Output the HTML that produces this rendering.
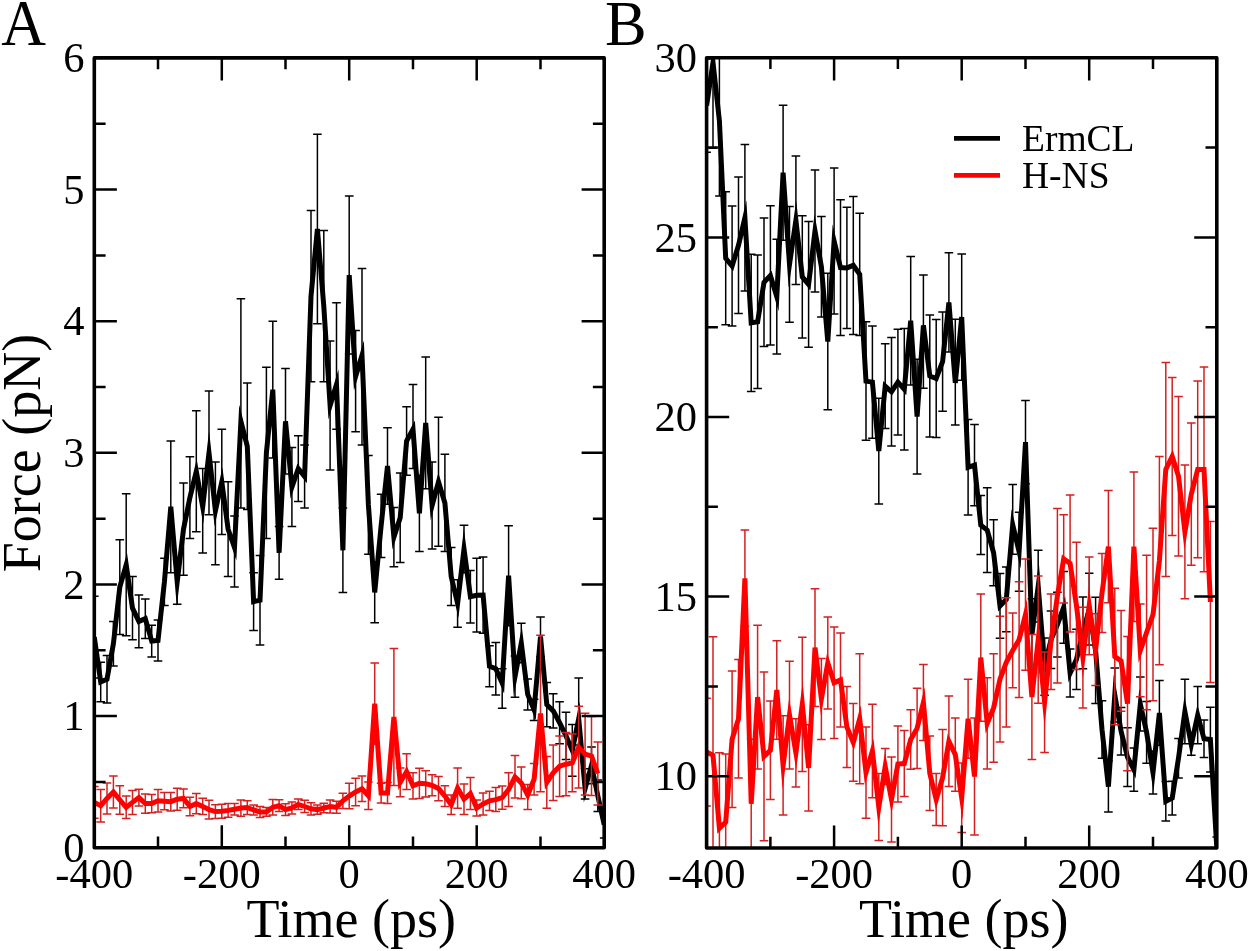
<!DOCTYPE html><html><head><meta charset="utf-8"><style>html,body{margin:0;padding:0;background:#fff;}svg{display:block;will-change:transform;}text{font-family:"Liberation Serif",serif;fill:#000;}</style></head><body>
<svg width="1250" height="951" viewBox="0 0 1250 951">
<rect width="1250" height="951" fill="#fff"/>
<defs>
<clipPath id="ca"><rect x="94.3" y="57.9" width="509.90000000000003" height="789.9"/></clipPath>
<clipPath id="cb"><rect x="706.6" y="57.8" width="510.19999999999993" height="790.2"/></clipPath>
</defs>
<g clip-path="url(#ca)">
<path d="M94.3 596.3V678.0M90.0 596.3H98.6M90.0 678.0H98.6M100.7 662.2V701.7M96.4 662.2H105.0M96.4 701.7H105.0M107.0 655.6V703.0M102.7 655.6H111.3M102.7 703.0H111.3M113.4 621.4V666.1M109.1 621.4H117.7M109.1 666.1H117.7M119.8 539.7V634.5M115.5 539.7H124.1M115.5 634.5H124.1M126.2 493.7V635.8M121.9 493.7H130.5M121.9 635.8H130.5M132.5 576.6V639.8M128.2 576.6H136.8M128.2 639.8H136.8M138.9 595.0V647.7M134.6 595.0H143.2M134.6 647.7H143.2M145.3 599.0V638.5M141.0 599.0H149.6M141.0 638.5H149.6M151.7 625.3V656.9M147.4 625.3H156.0M147.4 656.9H156.0M158.0 620.0V660.9M153.7 620.0H162.3M153.7 660.9H162.3M164.4 558.2V605.6M160.1 558.2H168.7M160.1 605.6H168.7M170.8 441.0V572.7M166.5 441.0H175.1M166.5 572.7H175.1M177.2 559.5V604.2M172.9 559.5H181.5M172.9 604.2H181.5M183.5 483.1V575.3M179.2 483.1H187.8M179.2 575.3H187.8M189.9 456.8V538.4M185.6 456.8H194.2M185.6 538.4H194.2M196.3 410.7V531.8M192.0 410.7H200.6M192.0 531.8H200.6M202.7 468.6V552.9M198.4 468.6H207.0M198.4 552.9H207.0M209.0 391.0V514.7M204.7 391.0H213.3M204.7 514.7H213.3M215.4 462.1V564.8M211.1 462.1H219.7M211.1 564.8H219.7M221.8 429.2V534.5M217.5 429.2H226.1M217.5 534.5H226.1M228.1 481.8V576.6M223.8 481.8H232.4M223.8 576.6H232.4M234.5 516.0V587.1M230.2 516.0H238.8M230.2 587.1H238.8M240.9 298.8V508.1M236.6 298.8H245.2M236.6 508.1H245.2M247.3 383.1V509.5M243.0 383.1H251.6M243.0 509.5H251.6M253.6 572.7V630.6M249.3 572.7H257.9M249.3 630.6H257.9M260.0 555.5V645.1M255.7 555.5H264.3M255.7 645.1H264.3M266.4 367.3V538.4M262.1 367.3H270.7M262.1 538.4H270.7M272.8 321.2V458.1M268.5 321.2H277.1M268.5 458.1H277.1M279.1 526.6V579.2M274.8 526.6H283.4M274.8 579.2H283.4M285.5 368.6V473.9M281.2 368.6H289.8M281.2 473.9H289.8M291.9 447.6V526.6M287.6 447.6H296.2M287.6 526.6H296.2M298.3 435.7V501.6M294.0 435.7H302.6M294.0 501.6H302.6M304.6 445.0V508.1M300.3 445.0H308.9M300.3 508.1H308.9M311.0 210.6V381.8M306.7 210.6H315.3M306.7 381.8H315.3M317.4 134.3V323.8M313.1 134.3H321.7M313.1 323.8H321.7M323.8 230.4V381.8M319.5 230.4H328.1M319.5 381.8H328.1M330.1 340.9V470.0M325.8 340.9H334.4M325.8 470.0H334.4M336.5 302.8V429.2M332.2 302.8H340.8M332.2 429.2H340.8M342.9 508.1V592.4M338.6 508.1H347.2M338.6 592.4H347.2M349.2 196.1V354.1M344.9 196.1H353.6M344.9 354.1H353.6M355.6 330.4V431.8M351.3 330.4H359.9M351.3 431.8H359.9M362.0 268.5V445.0M357.7 268.5H366.3M357.7 445.0H366.3M368.4 455.5V554.2M364.1 455.5H372.7M364.1 554.2H372.7M374.7 562.1V622.7M370.4 562.1H379.0M370.4 622.7H379.0M381.1 494.3V557.5M376.8 494.3H385.4M376.8 557.5H385.4M387.5 427.8V504.2M383.2 427.8H391.8M383.2 504.2H391.8M393.9 507.5V566.7M389.6 507.5H398.2M389.6 566.7H398.2M400.2 473.0V562.5M395.9 473.0H404.5M395.9 562.5H404.5M406.6 406.8V475.2M402.3 406.8H410.9M402.3 475.2H410.9M413.0 384.4V468.6M408.7 384.4H417.3M408.7 468.6H417.3M419.4 475.2V551.6M415.1 475.2H423.7M415.1 551.6H423.7M425.7 357.1V488.8M421.4 357.1H430.0M421.4 488.8H430.0M432.1 462.1V549.0M427.8 462.1H436.4M427.8 549.0H436.4M438.5 417.3V546.3M434.2 417.3H442.8M434.2 546.3H442.8M444.9 454.2V551.6M440.6 454.2H449.2M440.6 551.6H449.2M451.2 547.6V605.6M446.9 547.6H455.5M446.9 605.6H455.5M457.6 579.8V627.2M453.3 579.8H461.9M453.3 627.2H461.9M464.0 525.3V572.7M459.7 525.3H468.3M459.7 572.7H468.3M470.4 570.4V623.1M466.1 570.4H474.7M466.1 623.1H474.7M476.7 558.3V632.0M472.4 558.3H481.0M472.4 632.0H481.0M483.1 556.9V633.2M478.8 556.9H487.4M478.8 633.2H487.4M489.5 645.8V686.7M485.2 645.8H493.8M485.2 686.7H493.8M495.8 642.4V695.1M491.5 642.4H500.1M491.5 695.1H500.1M502.2 668.8V708.3M497.9 668.8H506.5M497.9 708.3H506.5M508.6 525.7V625.7M504.3 525.7H512.9M504.3 625.7H512.9M515.0 656.0V697.3M510.7 656.0H519.3M510.7 697.3H519.3M521.3 623.2V662.7M517.0 623.2H525.6M517.0 662.7H525.6M527.7 678.9V710.0M523.4 678.9H532.0M523.4 710.0H532.0M534.1 699.3V720.4M529.8 699.3H538.4M529.8 720.4H538.4M540.5 616.9V656.4M536.2 616.9H544.8M536.2 656.4H544.8M546.8 682.6V726.8M542.5 682.6H551.1M542.5 726.8H551.1M553.2 693.8V728.0M548.9 693.8H557.5M548.9 728.0H557.5M559.6 701.7V743.8M555.3 701.7H563.9M555.3 743.8H563.9M566.0 712.2V759.6M561.7 712.2H570.3M561.7 759.6H570.3M572.3 724.6V776.2M568.0 724.6H576.6M568.0 776.2H576.6M578.7 678.0V745.1M574.4 678.0H583.0M574.4 745.1H583.0M585.1 768.8V799.1M580.8 768.8H589.4M580.8 799.1H589.4M591.5 747.0V783.8M587.2 747.0H595.8M587.2 783.8H595.8M597.8 779.9V811.5M593.5 779.9H602.1M593.5 811.5H602.1M604.2 811.6V837.9M599.9 811.6H608.5M599.9 837.9H608.5" stroke="#000" stroke-width="1.5" fill="none"/>
<polyline points="94.3,637.2 100.7,681.9 107.0,679.3 113.4,643.7 119.8,587.1 126.2,564.8 132.5,608.2 138.9,621.4 145.3,618.7 151.7,641.1 158.0,640.5 164.4,581.9 170.8,506.8 177.2,581.9 183.5,529.2 189.9,497.6 196.3,471.3 202.7,506.8 209.0,452.8 215.4,510.8 221.8,481.8 228.1,529.2 234.5,547.6 240.9,421.3 247.3,446.3 253.6,601.6 260.0,600.3 266.4,452.8 272.8,389.7 279.1,552.9 285.5,421.3 291.9,487.1 298.3,468.6 304.6,476.5 311.0,296.2 317.4,229.0 323.8,306.1 330.1,405.5 336.5,384.4 342.9,550.3 349.2,275.1 355.6,376.5 362.0,355.4 368.4,504.9 374.7,592.4 381.1,525.9 387.5,466.0 393.9,537.1 400.2,517.8 406.6,441.0 413.0,429.2 419.4,513.4 425.7,423.0 432.1,505.5 438.5,481.8 444.9,502.9 451.2,576.6 457.6,603.5 464.0,549.0 470.4,596.7 476.7,595.2 483.1,595.0 489.5,666.3 495.8,668.8 502.2,683.2 508.6,575.7 515.0,676.7 521.3,643.0 527.7,694.4 534.1,709.8 540.5,636.6 546.8,704.7 553.2,710.9 559.6,722.7 566.0,735.9 572.3,750.4 578.7,718.8 585.1,788.6 591.5,765.4 597.8,795.7 604.2,824.8" stroke="#000" stroke-width="5" fill="none" stroke-linejoin="miter" stroke-miterlimit="10"/>
<path d="M94.3 786.6V818.2M90.0 786.6H98.6M90.0 818.2H98.6M100.7 789.5V821.9M96.4 789.5H105.0M96.4 821.9H105.0M107.0 782.9V814.0M102.7 782.9H111.3M102.7 814.0H111.3M113.4 776.1V807.9M109.1 776.1H117.7M109.1 807.9H117.7M119.8 785.8V814.2M115.5 785.8H124.1M115.5 814.2H124.1M126.2 796.1V818.4M121.9 796.1H130.5M121.9 818.4H130.5M132.5 790.4V814.4M128.2 790.4H136.8M128.2 814.4H136.8M138.9 789.3V805.9M134.6 789.3H143.2M134.6 805.9H143.2M145.3 794.0V813.2M141.0 794.0H149.6M141.0 813.2H149.6M151.7 794.4V812.8M147.4 794.4H156.0M147.4 812.8H156.0M158.0 789.6V812.0M153.7 789.6H162.3M153.7 812.0H162.3M164.4 792.6V809.8M160.1 792.6H168.7M160.1 809.8H168.7M170.8 792.5V810.9M166.5 792.5H175.1M166.5 810.9H175.1M177.2 788.2V810.3M172.9 788.2H181.5M172.9 810.3H181.5M183.5 789.1V807.8M179.2 789.1H187.8M179.2 807.8H187.8M189.9 797.2V815.7M185.6 797.2H194.2M185.6 815.7H194.2M196.3 793.4V813.7M192.0 793.4H200.6M192.0 813.7H200.6M202.7 798.3V814.6M198.4 798.3H207.0M198.4 814.6H207.0M209.0 800.3V819.0M204.7 800.3H213.3M204.7 819.0H213.3M215.4 804.8V818.4M211.1 804.8H219.7M211.1 818.4H219.7M221.8 804.2V818.2M217.5 804.2H226.1M217.5 818.2H226.1M228.1 803.6V817.3M223.8 803.6H232.4M223.8 817.3H232.4M234.5 803.6V814.9M230.2 803.6H238.8M230.2 814.9H238.8M240.9 799.9V816.2M236.6 799.9H245.2M236.6 816.2H245.2M247.3 800.7V814.6M243.0 800.7H251.6M243.0 814.6H251.6M253.6 805.0V815.0M249.3 805.0H257.9M249.3 815.0H257.9M260.0 806.6V817.4M255.7 806.6H264.3M255.7 817.4H264.3M266.4 807.6V816.3M262.1 807.6H270.7M262.1 816.3H270.7M272.8 799.5V815.0M268.5 799.5H277.1M268.5 815.0H277.1M279.1 799.7V811.6M274.8 799.7H283.4M274.8 811.6H283.4M285.5 803.8V815.4M281.2 803.8H289.8M281.2 815.4H289.8M291.9 802.1V814.0M287.6 802.1H296.2M287.6 814.0H296.2M298.3 799.1V809.6M294.0 799.1H302.6M294.0 809.6H302.6M304.6 800.3V812.6M300.3 800.3H308.9M300.3 812.6H308.9M311.0 802.8V814.9M306.7 802.8H315.3M306.7 814.9H315.3M317.4 805.0V814.2M313.1 805.0H321.7M313.1 814.2H321.7M323.8 803.3V812.8M319.5 803.3H328.1M319.5 812.8H328.1M330.1 800.0V812.9M325.8 800.0H334.4M325.8 812.9H334.4M336.5 801.3V813.2M332.2 801.3H340.8M332.2 813.2H340.8M342.9 793.2V808.4M338.6 793.2H347.2M338.6 808.4H347.2M349.2 783.3V808.8M344.9 783.3H353.6M344.9 808.8H353.6M355.6 778.2V805.8M351.3 778.2H359.9M351.3 805.8H359.9M362.0 776.1V801.6M357.7 776.1H366.3M357.7 801.6H366.3M368.4 782.0V809.6M364.1 782.0H372.7M364.1 809.6H372.7M374.7 663.1V744.2M370.4 663.1H379.0M370.4 744.2H379.0M381.1 783.2V802.9M376.8 783.2H385.4M376.8 802.9H385.4M387.5 782.5V803.6M383.2 782.5H391.8M383.2 803.6H391.8M393.9 648.5V785.4M389.6 648.5H398.2M389.6 785.4H398.2M400.2 768.0V796.7M395.9 768.0H404.5M395.9 796.7H404.5M406.6 753.7V789.5M402.3 753.7H410.9M402.3 789.5H410.9M413.0 772.8V799.1M408.7 772.8H417.3M408.7 799.1H417.3M419.4 768.2V798.4M415.1 768.2H423.7M415.1 798.4H423.7M425.7 770.7V797.0M421.4 770.7H430.0M421.4 797.0H430.0M432.1 774.7V795.8M427.8 774.7H436.4M427.8 795.8H436.4M438.5 776.4V800.7M434.2 776.4H442.8M434.2 800.7H442.8M444.9 785.7V806.5M440.6 785.7H449.2M440.6 806.5H449.2M451.2 795.1V814.4M446.9 795.1H455.5M446.9 814.4H455.5M457.6 767.9V808.2M453.3 767.9H461.9M453.3 808.2H461.9M464.0 784.1V814.4M459.7 784.1H468.3M459.7 814.4H468.3M470.4 777.5V809.6M466.1 777.5H474.7M466.1 809.6H474.7M476.7 800.1V815.9M472.4 800.1H481.0M472.4 815.9H481.0M483.1 792.9V815.0M478.8 792.9H487.4M478.8 815.0H487.4M489.5 791.2V810.4M485.2 791.2H493.8M485.2 810.4H493.8M495.8 787.6V811.6M491.5 787.6H500.1M491.5 811.6H500.1M502.2 786.1V809.2M497.9 786.1H506.5M497.9 809.2H506.5M508.6 772.8V806.5M504.3 772.8H512.9M504.3 806.5H512.9M515.0 755.6V798.0M510.7 755.6H519.3M510.7 798.0H519.3M521.3 767.1V798.7M517.0 767.1H525.6M517.0 798.7H525.6M527.7 784.6V809.6M523.4 784.6H532.0M523.4 809.6H532.0M534.1 763.5V795.1M529.8 763.5H538.4M529.8 795.1H538.4M540.5 635.2V791.8M536.2 635.2H544.8M536.2 791.8H544.8M546.8 756.4V808.3M542.5 756.4H551.1M542.5 808.3H551.1M553.2 745.1V800.4M548.9 745.1H557.5M548.9 800.4H557.5M559.6 735.9V796.5M555.3 735.9H563.9M555.3 796.5H563.9M566.0 732.6V795.8M561.7 732.6H570.3M561.7 795.8H570.3M572.3 733.9V791.8M568.0 733.9H576.6M568.0 791.8H576.6M578.7 706.3V787.9M574.4 706.3H583.0M574.4 787.9H583.0M585.1 713.3V794.9M580.8 713.3H589.4M580.8 794.9H589.4M591.5 716.5V795.5M587.2 716.5H595.8M587.2 795.5H595.8M597.8 742.0V805.1M593.5 742.0H602.1M593.5 805.1H602.1" stroke="#d42020" stroke-width="1.5" fill="none"/>
<polyline points="94.3,802.4 100.7,805.7 107.0,798.4 113.4,792.0 119.8,800.0 126.2,807.3 132.5,802.4 138.9,797.6 145.3,803.6 151.7,803.6 158.0,800.8 164.4,801.2 170.8,801.7 177.2,799.2 183.5,798.4 189.9,806.5 196.3,803.6 202.7,806.5 209.0,809.6 215.4,811.6 221.8,811.2 228.1,810.4 234.5,809.2 240.9,808.0 247.3,807.6 253.6,810.0 260.0,812.0 266.4,812.0 272.8,807.3 279.1,805.7 285.5,809.6 291.9,808.0 298.3,804.4 304.6,806.5 311.0,808.8 317.4,809.6 323.8,808.0 330.1,806.5 336.5,807.3 342.9,800.8 349.2,796.1 355.6,792.0 362.0,788.8 368.4,795.8 374.7,703.6 381.1,793.0 387.5,793.0 393.9,716.9 400.2,782.4 406.6,771.6 413.0,785.9 419.4,783.3 425.7,783.8 432.1,785.3 438.5,788.6 444.9,796.1 451.2,804.8 457.6,788.0 464.0,799.2 470.4,793.6 476.7,808.0 483.1,804.0 489.5,800.8 495.8,799.6 502.2,797.6 508.6,789.6 515.0,776.8 521.3,782.9 527.7,795.1 534.1,779.3 540.5,713.5 546.8,782.4 553.2,772.8 559.6,766.2 566.0,764.2 572.3,762.9 578.7,747.1 585.1,754.1 591.5,756.0 597.8,773.5" stroke="#f00" stroke-width="5" fill="none" stroke-linejoin="miter" stroke-miterlimit="10"/>
</g>
<g clip-path="url(#cb)">
<path d="M706.6 58.9V152.3M702.3 58.9H710.9M702.3 152.3H710.9M713.0 -23.4V148.3M708.7 -23.4H717.3M708.7 148.3H717.3M719.4 45.2V196.1M715.1 45.2H723.7M715.1 196.1H723.7M725.7 191.8V324.7M721.4 191.8H730.0M721.4 324.7H730.0M732.1 206.1V326.1M727.8 206.1H736.4M727.8 326.1H736.4M738.5 177.0V313.5M734.2 177.0H742.8M734.2 313.5H742.8M744.9 144.4V290.9M740.6 144.4H749.2M740.6 290.9H749.2M751.2 254.3V391.5M746.9 254.3H755.5M746.9 391.5H755.5M757.6 255.0V388.6M753.3 255.0H761.9M753.3 388.6H761.9M764.0 218.0V346.6M759.7 218.0H768.3M759.7 346.6H768.3M770.4 205.8V345.1M766.1 205.8H774.7M766.1 345.1H774.7M776.8 239.2V354.1M772.5 239.2H781.1M772.5 354.1H781.1M783.1 105.2V240.3M778.8 105.2H787.4M778.8 240.3H787.4M789.5 206.5V322.2M785.2 206.5H793.8M785.2 322.2H793.8M795.9 155.9V284.4M791.6 155.9H800.2M791.6 284.4H800.2M802.3 215.8V338.0M798.0 215.8H806.6M798.0 338.0H806.6M808.6 221.6V347.3M804.3 221.6H812.9M804.3 347.3H812.9M815.0 169.9V292.0M810.7 169.9H819.3M810.7 292.0H819.3M821.4 216.6V317.1M817.1 216.6H825.7M817.1 317.1H825.7M827.8 273.3V409.8M823.5 273.3H832.1M823.5 409.8H832.1M834.1 168.1V313.9M829.9 168.1H838.4M829.9 313.9H838.4M840.5 199.7V335.4M836.2 199.7H844.8M836.2 335.4H844.8M846.9 207.2V328.6M842.6 207.2H851.2M842.6 328.6H851.2M853.3 196.4V334.4M849.0 196.4H857.6M849.0 334.4H857.6M859.7 213.3V335.4M855.4 213.3H864.0M855.4 335.4H864.0M866.0 321.8V440.3M861.7 321.8H870.3M861.7 440.3H870.3M872.4 326.1V438.2M868.1 326.1H876.7M868.1 438.2H876.7M878.8 398.3V503.9M874.5 398.3H883.1M874.5 503.9H883.1M885.2 343.7V428.5M880.9 343.7H889.5M880.9 428.5H889.5M891.5 337.6V446.1M887.2 337.6H895.8M887.2 446.1H895.8M897.9 329.3V434.9M893.6 329.3H902.2M893.6 434.9H902.2M904.3 328.6V450.0M900.0 328.6H908.6M900.0 450.0H908.6M910.7 256.4V385.0M906.4 256.4H915.0M906.4 385.0H915.0M917.1 359.2V474.1M912.8 359.2H921.4M912.8 474.1H921.4M923.4 275.1V388.2M919.1 275.1H927.7M919.1 388.2H927.7M929.8 315.0V437.1M925.5 315.0H934.1M925.5 437.1H934.1M936.2 319.6V437.5M931.9 319.6H940.5M931.9 437.5H940.5M942.6 312.1V411.2M938.3 312.1H946.9M938.3 411.2H946.9M948.9 252.8V352.0M944.6 252.8H953.2M944.6 352.0H953.2M955.3 319.3V424.9M951.0 319.3H959.6M951.0 424.9H959.6M961.7 253.9V380.3M957.4 253.9H966.0M957.4 380.3H966.0M968.1 419.5V515.0M963.8 419.5H972.4M963.8 515.0H972.4M974.5 424.5V505.7M970.2 424.5H978.8M970.2 505.7H978.8M980.8 495.6V554.5M976.5 495.6H985.1M976.5 554.5H985.1M987.2 487.7V572.5M982.9 487.7H991.5M982.9 572.5H991.5M993.6 519.7V585.8M989.3 519.7H997.9M989.3 585.8H997.9M1000.0 573.6V638.2M995.7 573.6H1004.3M995.7 638.2H1004.3M1006.3 567.1V631.8M1002.0 567.1H1010.6M1002.0 631.8H1010.6M1012.7 484.5V554.2M1008.4 484.5H1017.0M1008.4 554.2H1017.0M1019.1 512.2V591.2M1014.8 512.2H1023.4M1014.8 591.2H1023.4M1025.5 400.5V483.8M1021.2 400.5H1029.8M1021.2 483.8H1029.8M1031.9 598.7V670.6M1027.6 598.7H1036.2M1027.6 670.6H1036.2M1038.2 550.2V622.1M1033.9 550.2H1042.5M1033.9 622.1H1042.5M1044.6 637.9V695.3M1040.3 637.9H1048.9M1040.3 695.3H1048.9M1051.0 610.9V668.4M1046.7 610.9H1055.3M1046.7 668.4H1055.3M1057.4 592.3V656.9M1053.1 592.3H1061.7M1053.1 656.9H1061.7M1063.7 571.4V643.3M1059.4 571.4H1068.0M1059.4 643.3H1068.0M1070.1 649.0V697.1M1065.8 649.0H1074.4M1065.8 697.1H1074.4M1076.5 629.3V689.6M1072.2 629.3H1080.8M1072.2 689.6H1080.8M1082.9 596.9V668.8M1078.6 596.9H1087.2M1078.6 668.8H1087.2M1089.2 573.2V645.1M1085.0 573.2H1093.5M1085.0 645.1H1093.5M1095.6 597.3V703.6M1091.3 597.3H1099.9M1091.3 703.6H1099.9M1102.0 700.7V758.2M1097.7 700.7H1106.3M1097.7 758.2H1106.3M1108.4 761.1V812.1M1104.1 761.1H1112.7M1104.1 812.1H1112.7M1114.8 668.0V721.9M1110.5 668.0H1119.1M1110.5 721.9H1119.1M1121.1 707.6V755.0M1116.8 707.6H1125.4M1116.8 755.0H1125.4M1127.5 727.7V786.6M1123.2 727.7H1131.8M1123.2 786.6H1131.8M1133.9 748.1V791.2M1129.6 748.1H1138.2M1129.6 791.2H1138.2M1140.3 677.0V730.9M1136.0 677.0H1144.6M1136.0 730.9H1144.6M1146.6 701.5V763.2M1142.3 701.5H1150.9M1142.3 763.2H1150.9M1153.0 751.0V794.1M1148.7 751.0H1157.3M1148.7 794.1H1157.3M1159.4 680.6V745.3M1155.1 680.6H1163.7M1155.1 745.3H1163.7M1165.8 781.6V821.1M1161.5 781.6H1170.1M1161.5 821.1H1170.1M1172.2 781.2V815.0M1167.9 781.2H1176.5M1167.9 815.0H1176.5M1178.5 738.4V778.0M1174.2 738.4H1182.8M1174.2 778.0H1182.8M1184.9 679.2V743.8M1180.6 679.2H1189.2M1180.6 743.8H1189.2M1191.3 733.8V755.3M1187.0 733.8H1195.6M1187.0 755.3H1195.6M1197.7 686.4V743.8M1193.4 686.4H1202.0M1193.4 743.8H1202.0M1204.0 720.1V757.5M1199.7 720.1H1208.3M1199.7 757.5H1208.3M1210.4 707.2V771.9M1206.1 707.2H1214.7M1206.1 771.9H1214.7M1216.8 836.9V858.4M1212.5 836.9H1221.1M1212.5 858.4H1221.1" stroke="#000" stroke-width="1.5" fill="none"/>
<polyline points="706.6,105.6 713.0,62.5 719.4,120.7 725.7,258.2 732.1,266.1 738.5,245.3 744.9,217.6 751.2,322.9 757.6,321.8 764.0,282.3 770.4,275.5 776.8,296.7 783.1,172.7 789.5,264.3 795.9,220.2 802.3,276.9 808.6,284.4 815.0,230.9 821.4,266.8 827.8,341.6 834.1,241.0 840.5,267.6 846.9,267.9 853.3,265.4 859.7,274.4 866.0,381.1 872.4,382.1 878.8,451.1 885.2,386.1 891.5,391.8 897.9,382.1 904.3,389.3 910.7,320.7 917.1,416.6 923.4,325.4 929.8,376.0 936.2,378.5 942.6,361.7 948.9,302.4 955.3,382.9 961.7,317.1 968.1,467.3 974.5,465.1 980.8,525.1 987.2,530.1 993.6,552.8 1000.0,605.9 1006.3,599.4 1012.7,524.7 1019.1,551.7 1025.5,442.1 1031.9,634.6 1038.2,586.2 1044.6,666.6 1051.0,639.7 1057.4,624.6 1063.7,607.3 1070.1,673.1 1076.5,659.4 1082.9,632.9 1089.2,609.1 1095.6,650.5 1102.0,729.5 1108.4,786.6 1114.8,695.0 1121.1,731.3 1127.5,757.1 1133.9,769.7 1140.3,704.0 1146.6,732.3 1153.0,772.6 1159.4,712.9 1165.8,801.3 1172.2,798.1 1178.5,758.2 1184.9,711.5 1191.3,744.6 1197.7,715.1 1204.0,738.8 1210.4,739.5 1216.8,847.6" stroke="#000" stroke-width="5" fill="none" stroke-linejoin="miter" stroke-miterlimit="10"/>
<path d="M706.6 698.2V806.0M702.3 698.2H710.9M702.3 806.0H710.9M713.0 636.8V873.9M708.7 636.8H717.3M708.7 873.9H717.3M719.4 752.8V903.7M715.1 752.8H723.7M715.1 903.7H723.7M725.7 753.9V890.4M721.4 753.9H730.0M721.4 890.4H730.0M732.1 670.9V807.4M727.8 670.9H736.4M727.8 807.4H736.4M738.5 659.4V778.0M734.2 659.4H742.8M734.2 778.0H742.8M744.9 530.1V626.4M740.6 530.1H749.2M740.6 626.4H749.2M751.2 739.2V868.5M746.9 739.2H755.5M746.9 868.5H755.5M757.6 625.3V769.0M753.3 625.3H761.9M753.3 769.0H761.9M764.0 672.0V840.8M759.7 672.0H768.3M759.7 840.8H768.3M770.4 701.1V799.5M766.1 701.1H774.7M766.1 799.5H774.7M776.8 640.8V739.2M772.5 640.8H781.1M772.5 739.2H781.1M783.1 715.8V815.0M778.8 715.8H787.4M778.8 815.0H787.4M789.5 661.2V769.0M785.2 661.2H793.8M785.2 769.0H793.8M795.9 718.7V786.9M791.6 718.7H800.2M791.6 786.9H800.2M802.3 637.2V771.5M798.0 637.2H806.6M798.0 771.5H806.6M808.6 724.8V811.0M804.3 724.8H812.9M804.3 811.0H812.9M815.0 588.7V706.5M810.7 588.7H819.3M810.7 706.5H819.3M821.4 658.4V739.5M817.1 658.4H825.7M817.1 739.5H825.7M827.8 617.0V709.0M823.5 617.0H832.1M823.5 709.0H832.1M834.1 627.1V738.4M829.9 627.1H838.4M829.9 738.4H838.4M840.5 632.9V727.0M836.2 632.9H844.8M836.2 727.0H844.8M846.9 686.4V767.5M842.6 686.4H851.2M842.6 767.5H851.2M853.3 703.6V781.2M849.0 703.6H857.6M849.0 781.2H857.6M859.7 653.7V783.7M855.4 653.7H864.0M855.4 783.7H864.0M866.0 727.0V818.2M861.7 727.0H870.3M861.7 818.2H870.3M872.4 704.3V797.7M868.1 704.3H876.7M868.1 797.7H876.7M878.8 773.6V840.5M874.5 773.6H883.1M874.5 840.5H883.1M885.2 748.5V784.4M880.9 748.5H889.5M880.9 784.4H889.5M891.5 757.1V841.9M887.2 757.1H895.8M887.2 841.9H895.8M897.9 725.9V802.0M893.6 725.9H902.2M893.6 802.0H902.2M904.3 730.5V796.6M900.0 730.5H908.6M900.0 796.6H908.6M910.7 709.7V769.3M906.4 709.7H915.0M906.4 769.3H915.0M917.1 688.2V768.6M912.8 688.2H921.4M912.8 768.6H921.4M923.4 664.5V740.6M919.1 664.5H927.7M919.1 740.6H927.7M929.8 735.9V810.6M925.5 735.9H934.1M925.5 810.6H934.1M936.2 773.6V825.4M931.9 773.6H940.5M931.9 825.4H940.5M942.6 729.5V825.7M938.3 729.5H946.9M938.3 825.7H946.9M948.9 696.1V786.6M944.6 696.1H953.2M944.6 786.6H953.2M955.3 718.0V791.2M951.0 718.0H959.6M951.0 791.2H959.6M961.7 762.9V832.6M957.4 762.9H966.0M957.4 832.6H966.0M968.1 679.2V758.2M963.8 679.2H972.4M963.8 758.2H972.4M974.5 718.0V835.1M970.2 718.0H978.8M970.2 835.1H978.8M980.8 594.1V721.2M976.5 594.1H985.1M976.5 721.2H985.1M987.2 677.7V769.0M982.9 677.7H991.5M982.9 769.0H991.5M993.6 653.7V762.2M989.3 653.7H997.9M989.3 762.2H997.9M1000.0 616.3V742.0M995.7 616.3H1004.3M995.7 742.0H1004.3M1006.3 597.7V727.0M1002.0 597.7H1010.6M1002.0 727.0H1010.6M1012.7 613.1V687.8M1008.4 613.1H1017.0M1008.4 687.8H1017.0M1019.1 581.8V697.5M1014.8 581.8H1023.4M1014.8 697.5H1023.4M1025.5 558.9V670.2M1021.2 558.9H1029.8M1021.2 670.2H1029.8M1031.9 634.6V759.6M1027.6 634.6H1036.2M1027.6 759.6H1036.2M1038.2 576.1V703.2M1033.9 576.1H1042.5M1033.9 703.2H1042.5M1044.6 651.9V752.5M1040.3 651.9H1048.9M1040.3 752.5H1048.9M1051.0 594.1V689.6M1046.7 594.1H1055.3M1046.7 689.6H1055.3M1057.4 508.6V683.1M1053.1 508.6H1061.7M1053.1 683.1H1061.7M1063.7 514.7V603.0M1059.4 514.7H1068.0M1059.4 603.0H1068.0M1070.1 494.9V632.1M1065.8 494.9H1074.4M1065.8 632.1H1074.4M1076.5 542.3V669.5M1072.2 542.3H1080.8M1072.2 669.5H1080.8M1082.9 607.3V707.9M1078.6 607.3H1087.2M1078.6 707.9H1087.2M1089.2 557.1V654.8M1085.0 557.1H1093.5M1085.0 654.8H1093.5M1095.6 613.8V685.6M1091.3 613.8H1099.9M1091.3 685.6H1099.9M1102.0 553.5V632.5M1097.7 553.5H1106.3M1097.7 632.5H1106.3M1108.4 490.6V602.7M1104.1 490.6H1112.7M1104.1 602.7H1112.7M1114.8 588.3V724.8M1110.5 588.3H1119.1M1110.5 724.8H1119.1M1121.1 610.6V711.2M1116.8 610.6H1125.4M1116.8 711.2H1125.4M1127.5 636.4V770.8M1123.2 636.4H1131.8M1123.2 770.8H1131.8M1133.9 471.9V621.4M1129.6 471.9H1138.2M1129.6 621.4H1138.2M1140.3 604.1V696.8M1136.0 604.1H1144.6M1136.0 696.8H1144.6M1146.6 555.3V709.7M1142.3 555.3H1150.9M1142.3 709.7H1150.9M1153.0 528.3V700.7M1148.7 528.3H1157.3M1148.7 700.7H1157.3M1159.4 456.5V664.8M1155.1 456.5H1163.7M1155.1 664.8H1163.7M1165.8 362.4V576.5M1161.5 362.4H1170.1M1161.5 576.5H1170.1M1172.2 377.5V535.5M1167.9 377.5H1176.5M1167.9 535.5H1176.5M1178.5 396.5V556.0M1174.2 396.5H1182.8M1174.2 556.0H1182.8M1184.9 465.1V598.7M1180.6 465.1H1189.2M1180.6 598.7H1189.2M1191.3 423.1V565.3M1187.0 423.1H1195.6M1187.0 565.3H1195.6M1197.7 381.1V557.8M1193.4 381.1H1202.0M1193.4 557.8H1202.0M1204.0 367.1V571.8M1199.7 367.1H1208.3M1199.7 571.8H1208.3M1210.4 521.5V682.4M1206.1 521.5H1214.7M1206.1 682.4H1214.7" stroke="#d42020" stroke-width="1.5" fill="none"/>
<polyline points="706.6,752.1 713.0,755.3 719.4,828.2 725.7,822.1 732.1,739.2 738.5,718.7 744.9,578.3 751.2,803.8 757.6,697.1 764.0,756.4 770.4,750.3 776.8,690.0 783.1,765.4 789.5,715.1 795.9,752.8 802.3,704.3 808.6,767.9 815.0,647.6 821.4,698.9 827.8,663.0 834.1,682.8 840.5,679.9 846.9,727.0 853.3,742.4 859.7,718.7 866.0,772.6 872.4,751.0 878.8,807.1 885.2,766.5 891.5,799.5 897.9,764.0 904.3,763.6 910.7,739.5 917.1,728.4 923.4,702.5 929.8,773.3 936.2,799.5 942.6,777.6 948.9,741.3 955.3,754.6 961.7,797.7 968.1,718.7 974.5,776.5 980.8,657.6 987.2,723.4 993.6,707.9 1000.0,679.2 1006.3,662.3 1012.7,650.5 1019.1,639.7 1025.5,614.5 1031.9,697.1 1038.2,639.7 1044.6,702.2 1051.0,641.8 1057.4,595.9 1063.7,558.9 1070.1,563.5 1076.5,605.9 1082.9,657.6 1089.2,605.9 1095.6,649.7 1102.0,593.0 1108.4,546.6 1114.8,656.6 1121.1,660.9 1127.5,703.6 1133.9,546.6 1140.3,650.5 1146.6,632.5 1153.0,614.5 1159.4,560.7 1165.8,469.4 1172.2,456.5 1178.5,476.2 1184.9,531.9 1191.3,494.2 1197.7,469.4 1204.0,469.4 1210.4,602.0" stroke="#f00" stroke-width="5" fill="none" stroke-linejoin="miter" stroke-miterlimit="10"/>
</g>
<path d="M221.8 847.8v-22.6M221.8 57.9v22.6M349.2 847.8v-22.6M349.2 57.9v22.6M476.7 847.8v-22.6M476.7 57.9v22.6M158.0 847.8v-11.3M158.0 57.9v11.3M285.5 847.8v-11.3M285.5 57.9v11.3M413.0 847.8v-11.3M413.0 57.9v11.3M540.5 847.8v-11.3M540.5 57.9v11.3M94.3 716.1h22.6M604.2 716.1h-22.6M94.3 584.5h22.6M604.2 584.5h-22.6M94.3 452.8h22.6M604.2 452.8h-22.6M94.3 321.2h22.6M604.2 321.2h-22.6M94.3 189.5h22.6M604.2 189.5h-22.6M94.3 782.0h11.3M604.2 782.0h-11.3M94.3 650.3h11.3M604.2 650.3h-11.3M94.3 518.7h11.3M604.2 518.7h-11.3M94.3 387.0h11.3M604.2 387.0h-11.3M94.3 255.4h11.3M604.2 255.4h-11.3M94.3 123.7h11.3M604.2 123.7h-11.3" stroke="#000" stroke-width="2.5" fill="none"/>
<path d="M834.1 848.0v-22.6M834.1 57.8v22.6M961.7 848.0v-22.6M961.7 57.8v22.6M1089.2 848.0v-22.6M1089.2 57.8v22.6M770.4 848.0v-11.3M770.4 57.8v11.3M897.9 848.0v-11.3M897.9 57.8v11.3M1025.5 848.0v-11.3M1025.5 57.8v11.3M1153.0 848.0v-11.3M1153.0 57.8v11.3M706.6 776.2h22.6M1216.8 776.2h-22.6M706.6 596.6h22.6M1216.8 596.6h-22.6M706.6 417.0h22.6M1216.8 417.0h-22.6M706.6 237.4h22.6M1216.8 237.4h-22.6M706.6 686.4h11.3M1216.8 686.4h-11.3M706.6 506.8h11.3M1216.8 506.8h-11.3M706.6 327.2h11.3M1216.8 327.2h-11.3M706.6 147.6h11.3M1216.8 147.6h-11.3" stroke="#000" stroke-width="2.5" fill="none"/>
<rect x="94.3" y="57.9" width="509.9" height="789.9" fill="none" stroke="#000" stroke-width="3.6" stroke-linejoin="round"/>
<rect x="706.6" y="57.8" width="510.2" height="790.2" fill="none" stroke="#000" stroke-width="3.6" stroke-linejoin="round"/>
<text x="84.5" y="861.9" font-size="42.5" text-anchor="end">0</text>
<text x="84.5" y="730.2" font-size="42.5" text-anchor="end">1</text>
<text x="84.5" y="598.6" font-size="42.5" text-anchor="end">2</text>
<text x="84.5" y="466.9" font-size="42.5" text-anchor="end">3</text>
<text x="84.5" y="335.3" font-size="42.5" text-anchor="end">4</text>
<text x="84.5" y="203.6" font-size="42.5" text-anchor="end">5</text>
<text x="84.5" y="72.0" font-size="42.5" text-anchor="end">6</text>
<text x="697" y="790.3" font-size="42.5" text-anchor="end">10</text>
<text x="697" y="610.7" font-size="42.5" text-anchor="end">15</text>
<text x="697" y="431.1" font-size="42.5" text-anchor="end">20</text>
<text x="697" y="251.5" font-size="42.5" text-anchor="end">25</text>
<text x="697" y="71.9" font-size="42.5" text-anchor="end">30</text>
<text x="94.3" y="887.5" font-size="42.5" text-anchor="middle">-400</text>
<text x="706.6" y="887.5" font-size="42.5" text-anchor="middle">-400</text>
<text x="221.8" y="887.5" font-size="42.5" text-anchor="middle">-200</text>
<text x="834.1" y="887.5" font-size="42.5" text-anchor="middle">-200</text>
<text x="349.2" y="887.5" font-size="42.5" text-anchor="middle">0</text>
<text x="961.7" y="887.5" font-size="42.5" text-anchor="middle">0</text>
<text x="476.7" y="887.5" font-size="42.5" text-anchor="middle">200</text>
<text x="1089.2" y="887.5" font-size="42.5" text-anchor="middle">200</text>
<text x="604.2" y="887.5" font-size="42.5" text-anchor="middle">400</text>
<text x="1216.8" y="887.5" font-size="42.5" text-anchor="middle">400</text>
<text x="351.3" y="937" font-size="54" text-anchor="middle">Time (ps)</text>
<text x="963.7" y="937" font-size="54" text-anchor="middle">Time (ps)</text>
<text transform="translate(40,453) rotate(-90)" font-size="54" text-anchor="middle">Force (pN)</text>
<text transform="translate(1.2,44.8) scale(0.953,1)" font-size="65">A</text>
<text transform="translate(605,44.6) scale(0.969,1)" font-size="64.4">B</text>
<path d="M954 138.4H1000" stroke="#000" stroke-width="4.6"/>
<path d="M954 175.4H1000" stroke="#f00" stroke-width="4.6"/>
<text x="1022" y="151" font-size="37.5">ErmCL</text>
<text x="1022" y="188" font-size="37.5">H-NS</text>
</svg></body></html>
